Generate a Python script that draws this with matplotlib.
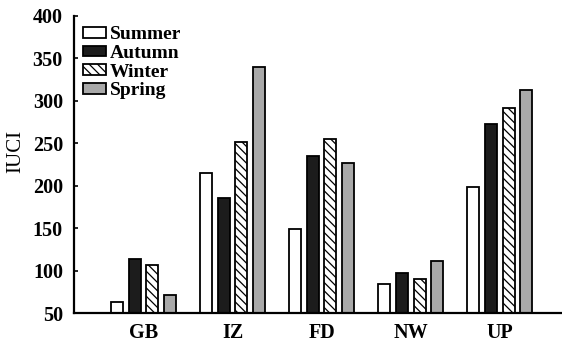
import matplotlib
matplotlib.use("Agg")
import matplotlib.pyplot as plt
import numpy as np

# values
sites = ["GB", "IZ", "FD", "NW", "UP"]
seasons = ["Summer", "Autumn", "Winter", "Spring"]
summer = [63, 215, 149, 84, 199]
autumn = [114, 186, 235, 98, 273]
winter = [107, 251, 255, 90, 292]
spring = [72, 340, 227, 111, 313]

plt.rcParams['font.family'] = ['Liberation Serif', 'DejaVu Serif']
plt.rcParams['hatch.linewidth'] = 0.9

fig = plt.figure(figsize=(5.62, 3.44), dpi=100)
ax = fig.add_axes([0.1317, 0.0892, 0.8683, 0.8650])

x = np.arange(1, len(sites) + 1)
width = 0.135
offsets = [-0.3, -0.1, 0.1, 0.3]
styles = [
    dict(color="white", hatch=None),
    dict(color="#1c1c1c", hatch=None),
    dict(color="white", hatch="\\\\\\\\"),
    dict(color="#a9a9a9", hatch=None),
]
series = [summer, autumn, winter, spring]

for vals, off, st, name in zip(series, offsets, styles, seasons):
    ax.bar(x + off, np.array(vals) - 50, width, bottom=50,
           facecolor=st["color"], edgecolor="black", linewidth=1.3,
           hatch=st["hatch"], label=name)

ax.set_xlim(0.22, 5.70)
ax.set_ylim(50, 400)
ax.set_yticks([50, 100, 150, 200, 250, 300, 350, 400])
ax.set_xticks(x)
ax.set_xticklabels(sites)

for s in ["top", "right"]:
    ax.spines[s].set_visible(False)
for s in ["left", "bottom"]:
    ax.spines[s].set_linewidth(1.6)

ax.tick_params(axis="y", direction="in", length=3, width=1.2, pad=8,
               labelsize=14.5)
ax.tick_params(axis="x", length=0, pad=7, labelsize=14.5)
for lab in ax.get_xticklabels() + ax.get_yticklabels():
    lab.set_fontweight("bold")

ax.set_ylabel("IUCI", fontsize=15)
ax.yaxis.set_label_coords(-0.1, 0.545)

leg = ax.legend(loc="upper left", bbox_to_anchor=(0.018, 0.965),
                frameon=False, borderpad=0, borderaxespad=0,
                handlelength=1.18, handleheight=0.46, handletextpad=0.2,
                labelspacing=0.09, prop=dict(weight="bold", size=14))

fig.savefig("out.png", dpi=100)
